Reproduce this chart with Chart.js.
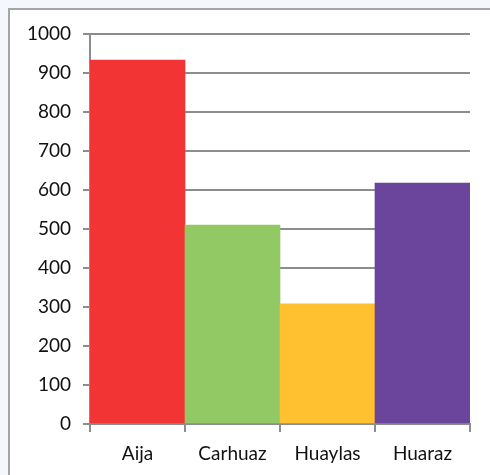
<!DOCTYPE html>
<html>
<head>
<meta charset="utf-8">
<script src="https://cdn.jsdelivr.net/npm/chart.js@4"></script>
<style>
  html, body { margin: 0; padding: 0; background: #f4f8fc; }
  #frame {
    position: absolute; left: 8px; top: 8px; width: 500px; height: 500px;
    border: 2px solid #a3a6a8; background: #ffffff;
  }
  #wrap { position: absolute; left: 0; top: 0; width: 490px; height: 475px; }
</style>
</head>
<body>
<div id="frame"></div>
<div id="wrap"><canvas id="barChart"></canvas></div>
<script>
// categories and values
const provinces = ["Aija", "Carhuaz", "Huaylas", "Huaraz"];
const amounts = [933, 510, 308, 618];
const barColors = ["#f23434", "#92c965", "#ffc12f", "#6b449b"];

const ctx = document.getElementById("barChart").getContext("2d");
const labelFont = { family: "Lato, 'Open Sans', sans-serif", size: 19 };

new Chart(ctx, {
  type: "bar",
  data: {
    labels: provinces,
    datasets: [{
      data: amounts,
      backgroundColor: barColors,
      borderWidth: 0,
      barPercentage: 1,
      categoryPercentage: 1,
    }],
  },
  options: {
    responsive: true,
    maintainAspectRatio: false,
    animation: false,
    layout: { padding: { left: 0, right: 20, top: 34, bottom: 0 } },
    plugins: { legend: { display: false }, tooltip: { enabled: false } },
    scales: {
      x: {
        afterFit: (scale) => { scale.height = 51; }, // keep the baseline at y = 424
        grid: { drawOnChartArea: false, color: "#8a8e91", lineWidth: 2, tickLength: 8 },
        border: { color: "#8a8e91", width: 2 },
        ticks: { color: "#111", font: labelFont, padding: 10 },
      },
      y: {
        min: 0,
        max: 1000,
        afterFit: (scale) => { scale.width = 90; }, // keep the axis at x = 90
        ticks: { stepSize: 100, color: "#111", font: labelFont, padding: 12, callback: (v) => String(v) },
        grid: { color: "#8a8e91", lineWidth: 2, tickLength: 7 },
        border: { color: "#8a8e91", width: 2 },
      },
    },
  },
});
</script>
</body>
</html>
